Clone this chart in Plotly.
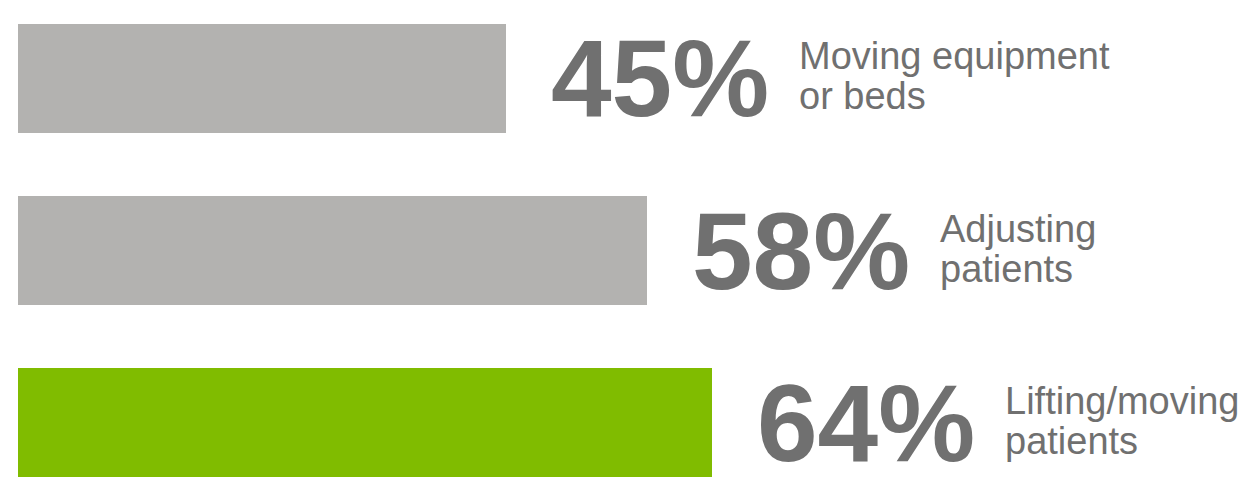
import plotly.graph_objects as go

categories = ["Moving equipment\nor beds", "Adjusting\npatients", "Lifting/moving\npatients"]
values = [45, 58, 64]
value_labels = ["45%", "58%", "64%"]
bar_colors = ["#B3B2B0", "#B3B2B0", "#80BC00"]

TEXT_COLOR = "#707070"
FONT = "Liberation Sans, Arial, Helvetica, sans-serif"

fig = go.Figure()
fig.add_trace(go.Bar(
    x=values,
    y=categories,
    orientation="h",
    marker=dict(color=bar_colors, line=dict(width=0)),
    width=0.634,
    hoverinfo="skip",
))

annotations = []
for cat, val, lab in zip(categories, values, value_labels):
    annotations.append(dict(
        x=val, y=cat, xref="x", yref="y",
        text="<b>" + lab + "</b>", showarrow=False,
        xanchor="left", yanchor="middle", xshift=43, yshift=0,
        font=dict(family=FONT, size=109, color=TEXT_COLOR),
    ))
    lines = cat.split("\n")
    for i, line in enumerate(lines):
        annotations.append(dict(
            x=val, y=cat, xref="x", yref="y",
            text=line, showarrow=False,
            xanchor="left", yanchor="middle", xshift=291,
            yshift=22 - 40 * i,
            font=dict(family=FONT, size=38, color=TEXT_COLOR),
        ))

fig.update_layout(
    width=1244, height=485,
    margin=dict(l=18, r=0, t=0, b=0),
    paper_bgcolor="white", plot_bgcolor="white",
    showlegend=False,
    bargap=0,
    annotations=annotations,
    xaxis=dict(range=[0, 113.0], visible=False, fixedrange=True),
    yaxis=dict(type="category", categoryarray=categories,
               range=[2.363, -0.456], visible=False, fixedrange=True),
)

fig.write_html("out.html")
